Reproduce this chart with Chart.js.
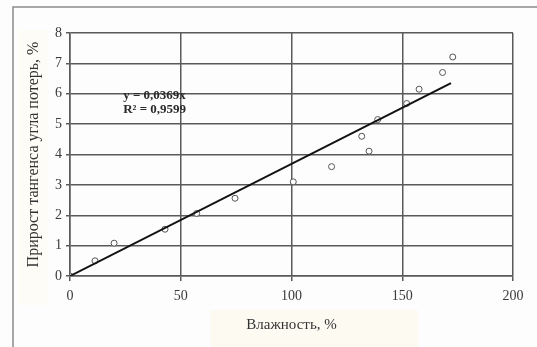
<!DOCTYPE html>
<html>
<head>
<meta charset="utf-8">
<script src="https://cdn.jsdelivr.net/npm/chart.js@4/dist/chart.umd.min.js"></script>
<style>
  html, body { margin: 0; padding: 0; background: #fefdfe; }
  #wrap { width: 537px; height: 347px; position: relative; }
</style>
</head>
<body>
<div id="wrap"><canvas id="c" width="537" height="347"></canvas></div>
<script>
// Moisture content, % (x) and loss-tangent increase, % (y)
const moisture = [0, 11.3, 19.9, 42.9, 57.2, 74.5, 100.8, 118.1, 131.7, 135.0, 138.9, 152.0, 157.6, 168.2, 172.8];
const tanDeltaGain = [0, 0.50, 1.08, 1.54, 2.06, 2.56, 3.10, 3.60, 4.60, 4.11, 5.15, 5.68, 6.15, 6.70, 7.21];

// Linear trend through the origin: y = 0.0369x, R² = 0.9599
const trendSlope = 0.0369;
const trendR2 = 0.9599;
const trendRange = [0, 172];

const xTicks = [0, 50, 100, 150, 200];
const yTicks = [0, 1, 2, 3, 4, 5, 6, 7, 8];

const xTitle = 'Влажность, %';
const yTitle = 'Прирост тангенса угла потерь, %';
const eqLine1 = 'y = ' + trendSlope.toFixed(4).replace('.', ',') + 'x';
const eqLine2 = 'R² = ' + trendR2.toFixed(4).replace('.', ',');

const FONT = 'Liberation Serif';

const pointData = moisture.map((x, i) => ({ x: x, y: tanDeltaGain[i] }));
const trendData = trendRange.map(x => ({ x: x, y: trendSlope * x }));

// Frame, title backgrounds and the regression equation
const decor = {
  id: 'decor',
  beforeDraw(chart) {
    const ctx = chart.ctx;
    ctx.save();
    ctx.fillStyle = '#fefdfe';
    ctx.fillRect(0, 0, chart.width, chart.height);
    ctx.fillStyle = '#fdfaf2';
    ctx.fillRect(210, 310, 208, 40);
    ctx.fillStyle = '#fdfcf7';
    ctx.fillRect(18, 30, 30, 275);
    ctx.strokeStyle = '#8a8a8a';
    ctx.lineWidth = 1.5;
    ctx.beginPath();
    ctx.moveTo(13, chart.height + 2);
    ctx.lineTo(13, 7);
    ctx.lineTo(chart.width + 2, 7);
    ctx.stroke();
    ctx.restore();
  },
  afterDatasetsDraw(chart) {
    const ctx = chart.ctx;
    const xs = chart.scales.x, ys = chart.scales.y;
    const x0 = xs.getPixelForValue(24);
    ctx.save();
    ctx.fillStyle = '#2a2a2a';
    ctx.font = 'bold 13px "' + FONT + '"';
    ctx.textBaseline = 'middle';
    ctx.textAlign = 'left';
    ctx.fillText(eqLine1, x0, ys.getPixelForValue(5.95));
    ctx.fillText(eqLine2, x0, ys.getPixelForValue(5.49));
    ctx.restore();
  }
};

new Chart(document.getElementById('c'), {
  type: 'scatter',
  data: {
    datasets: [
      {
        label: 'trend',
        type: 'line',
        data: trendData,
        borderColor: '#111',
        borderWidth: 2,
        pointRadius: 0,
        fill: false,
        order: 0
      },
      {
        label: 'data',
        data: pointData,
        pointStyle: 'circle',
        pointRadius: 3,
        pointBackgroundColor: '#ffffff',
        pointBorderColor: '#555',
        pointBorderWidth: 1,
        order: 1
      }
    ]
  },
  plugins: [decor],
  options: {
    responsive: false,
    animation: false,
    devicePixelRatio: 1,
    layout: { padding: { left: 13, top: 33, right: 24, bottom: 0 } },
    plugins: {
      legend: { display: false },
      tooltip: { enabled: false }
    },
    scales: {
      x: {
        type: 'linear',
        min: 0, max: 200,
        afterBuildTicks(scale) { scale.ticks = xTicks.map(v => ({ value: v })); },
        afterFit(scale) { scale.height = 71; },
        grid: { color: '#5a5a5a', lineWidth: 1.5, tickLength: 5, drawTicks: true },
        border: { display: true, color: '#5a5a5a', width: 1.5 },
        ticks: { color: '#3a3a3a', font: { family: FONT, size: 14 }, padding: 7, maxRotation: 0 },
        title: { display: true, text: xTitle, color: '#333', font: { family: FONT, size: 15 }, padding: { top: 0, bottom: 13 } }
      },
      y: {
        type: 'linear',
        min: 0, max: 8,
        afterBuildTicks(scale) { scale.ticks = yTicks.map(v => ({ value: v })); },
        afterFit(scale) { scale.width = 57; },
        grid: { color: '#5a5a5a', lineWidth: 1.5, tickLength: 4, drawTicks: true },
        border: { display: true, color: '#5a5a5a', width: 1.5 },
        ticks: { color: '#3a3a3a', font: { family: FONT, size: 14 }, padding: 4 },
        title: { display: true, text: yTitle, color: '#333', font: { family: FONT, size: 16 }, padding: { top: 11, bottom: 0 } }
      }
    }
  }
});
</script>
</body>
</html>
